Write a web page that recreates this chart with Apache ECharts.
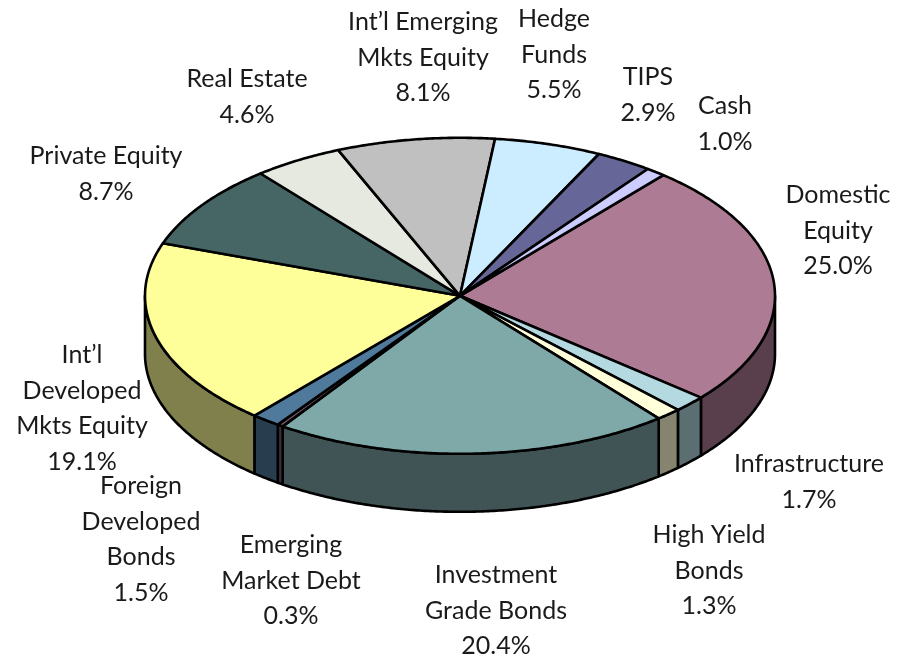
<!DOCTYPE html>
<html>
<head>
<meta charset="utf-8">
<script src="https://cdn.jsdelivr.net/npm/echarts@6/dist/echarts.min.js"></script>
<style>
html, body { margin: 0; padding: 0; background: #fff; }
#chart { width: 915px; height: 661px; }
</style>
</head>
<body>
<div id="chart"></div>
<script>
var names = ['Domestic\nEquity', 'Infrastructure', 'High Yield\nBonds', 'Investment\nGrade Bonds',
    'Emerging\nMarket Debt', 'Foreign\nDeveloped\nBonds', 'Int\u2019l\nDeveloped\nMkts Equity',
    'Private Equity', 'Real Estate', 'Int\u2019l Emerging\nMkts Equity', 'Hedge\nFunds', 'TIPS', 'Cash'];
var values = [25.0, 1.7, 1.3, 20.4, 0.3, 1.5, 19.1, 8.7, 4.6, 8.1, 5.5, 2.9, 1.0];
var topColors = ['#AE7B95', '#B4D9E1', '#FFFFD9', '#7FA9A8', '#7A5C70', '#4F7A9B', '#FFFF99',
    '#466666', '#E6E9E0', '#C0C0C0', '#CCECFF', '#666699', '#CCCCFF'];
var sideColors = ['#593F4C', '#5B6E72', '#84846F', '#405455', '#3D2E38', '#283D4E', '#80804D',
    '#233333', '#737470', '#606060', '#667680', '#33334D', '#666680'];

// label centres, x and first line y
var labelX = [838, 809, 709, 496, 291, 141, 82, 106, 247, 423, 554, 648, 725];
var labelY = [195, 464, 535, 575, 545, 486, 355, 156, 79, 22, 19, 77, 106];
var lineGap = 35.5;

var cx = 460, cy = 295.8, rx = 315, ry = 158, depth = 58;
var startAngle = 49.8;

var total = values.reduce(function (a, b) { return a + b; }, 0);

function sliceRange(idx) {
    var before = 0;
    for (var i = 0; i < idx; i++) before += values[i];
    return [startAngle - before / total * 360, startAngle - (before + values[idx]) / total * 360];
}

function pt(deg, dy) {
    var t = deg * Math.PI / 180;
    return [cx + rx * Math.cos(t), cy - ry * Math.sin(t) + (dy || 0)];
}

function arcPoints(a0, a1, dy) {
    var n = Math.max(2, Math.ceil(Math.abs(a1 - a0) * 2));
    var pts = [];
    for (var i = 0; i <= n; i++) pts.push(pt(a0 + (a1 - a0) * i / n, dy));
    return pts;
}

function renderSide(params, api) {
    var r = sliceRange(api.value(0));
    // only the front half of the rim is visible: angles -180..0
    var a0 = r[0], a1 = r[1];
    var segs = [[0, -180], [-360, -540]];
    var children = [];
    segs.forEach(function (s) {
        var from = Math.min(a0, s[0]), to = Math.max(a1, s[1]);
        if (from <= to) return;
        var pts = arcPoints(from, to, 0).concat(arcPoints(to, from, depth));
        children.push({
            type: 'polygon',
            shape: { points: pts },
            style: { fill: sideColors[api.value(0)], stroke: '#000', lineWidth: 2.6, lineJoin: 'round' }
        });
    });
    return { type: 'group', children: children };
}

function renderTop(params, api) {
    var r = sliceRange(api.value(0));
    var pts = [[cx, cy]].concat(arcPoints(r[0], r[1], 0));
    return {
        type: 'polygon',
        shape: { points: pts },
        style: { fill: topColors[api.value(0)], stroke: '#000', lineWidth: 2.6, lineJoin: 'round' }
    };
}

var sliceIndex = values.map(function (v, i) { return [i]; });

var labels = names.map(function (n, i) {
    return {
        type: 'text',
        x: labelX[i],
        y: labelY[i] - lineGap / 2,
        silent: true,
        style: {
            text: n + '\n' + values[i].toFixed(1) + '%',
            align: 'center',
            verticalAlign: 'top',
            lineHeight: lineGap,
            fontFamily: 'Lato',
            fontSize: 25,
            fill: '#1a1a1a'
        }
    };
});

var chart = echarts.init(document.getElementById('chart'), null, { renderer: 'canvas' });
chart.setOption({
    animation: false,
    backgroundColor: '#fff',
    graphic: labels,
    series: [
        { type: 'custom', coordinateSystem: 'none', renderItem: renderSide, data: sliceIndex, silent: true, clip: false, z: 1 },
        { type: 'custom', coordinateSystem: 'none', renderItem: renderTop, data: sliceIndex, silent: true, clip: false, z: 2 }
    ]
});
</script>
</body>
</html>
